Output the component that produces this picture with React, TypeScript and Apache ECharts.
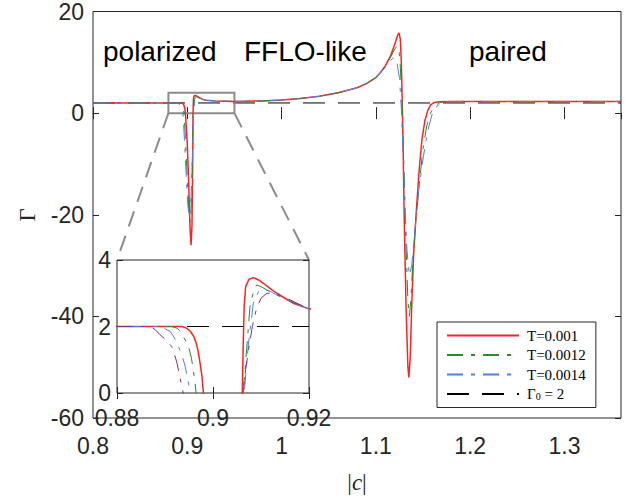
import React, { useEffect, useRef } from "react";
import * as echarts from "echarts";

// ---- data ----
const legendNames = ["T=0.001", "T=0.0012", "T=0.0014", "Γ0 = 2"];
const xTicksMain = { min: 0.8, max: 1.36, step: 0.1 };
const yTicksMain = { min: -60, max: 20, step: 20 };
const xTicksInset = { min: 0.88, max: 0.92, step: 0.02 };
const yTicksInset = { min: 0, max: 4, step: 2 };
const gamma0 = 2;
const zoomBox = { x0: 0.88, x1: 0.95, y0: 0, y1: 4 };

// shared slow rise in the FFLO-like window
const ffloRise: number[][] = [
  [0.95, 2.3], [0.98, 2.4], [1.0, 2.6], [1.02, 2.9], [1.04, 3.3], [1.06, 4.0],
  [1.08, 5.0], [1.09, 5.8], [1.1, 7.0], [1.105, 8.0],
];

const redT1: number[][] = [
  [0.8, 2.0], [0.85, 2.0], [0.88, 2.0], [0.8935, 2.0], [0.8945, 1.95], [0.8953, 1.85],
  [0.896, 1.7], [0.8965, 1.5], [0.8969, 1.25], [0.8972, 1.0], [0.8975, 0.7], [0.8977, 0.5],
  [0.898, 0], [0.899, -3], [0.9, -6], [0.901, -11], [0.902, -17], [0.903, -23], [0.904, -26],
  [0.905, -22], [0.9055, -14], [0.9058, -8], [0.906, -2], [0.9061, 0], [0.9063, 1.5],
  [0.9065, 2.6], [0.9068, 3.2], [0.9075, 3.42], [0.9084, 3.47], [0.9095, 3.4], [0.9105, 3.3],
  [0.912, 3.13], [0.9133, 3.0], [0.915, 2.85], [0.9167, 2.7], [0.92, 2.53], [0.93, 2.4],
  ...ffloRise,
  [1.11, 9.3], [1.115, 11.0], [1.12, 13.5], [1.123, 15.3], [1.1245, 15.8], [1.126, 14.5],
  [1.127, 10], [1.128, 2], [1.129, -8], [1.13, -20], [1.132, -38], [1.134, -50], [1.135, -52],
  [1.1365, -48], [1.138, -38], [1.14, -28], [1.143, -19], [1.146, -11], [1.149, -5],
  [1.152, -1.5], [1.155, 0.5], [1.158, 1.6], [1.162, 2.1], [1.167, 2.25], [1.18, 2.3],
  [1.25, 2.3], [1.36, 2.3],
];

const greenT2: number[][] = [
  [0.8, 2], [0.88, 2], [0.8914, 2], [0.8925, 1.95], [0.8932, 1.85], [0.894, 1.65],
  [0.8949, 1.4], [0.8955, 1.05], [0.8959, 0.7], [0.8965, 0], [0.897, -1.5], [0.898, -5],
  [0.8995, -11], [0.901, -17], [0.902, -20], [0.903, -21.5], [0.904, -19], [0.905, -13],
  [0.9058, -5], [0.9063, 0], [0.907, 1.3], [0.9077, 2.6], [0.9085, 3.1], [0.9091, 3.25],
  [0.91, 3.2], [0.9112, 3.1], [0.9147, 2.85], [0.9175, 2.68], [0.92, 2.53], [0.93, 2.4],
  ...ffloRise,
  [1.11, 9.3], [1.115, 10.8], [1.12, 12.6], [1.123, 13.3], [1.1245, 12.5], [1.126, 9],
  [1.128, 1], [1.13, -12], [1.132, -26], [1.134, -37], [1.1355, -40], [1.137, -37],
  [1.139, -30], [1.142, -22], [1.146, -14], [1.15, -7], [1.154, -2.5], [1.158, 0],
  [1.162, 1.3], [1.167, 2.0], [1.172, 2.25], [1.18, 2.3], [1.25, 2.3], [1.36, 2.3],
];

const blueT3: number[][] = [
  [0.8, 2], [0.88, 2], [0.889, 2], [0.8895, 1.97], [0.8911, 1.85], [0.892, 1.65],
  [0.8928, 1.4], [0.8936, 1.1], [0.8942, 0.8], [0.8953, 0], [0.896, -2], [0.8975, -7],
  [0.899, -13], [0.9005, -18], [0.902, -20.5], [0.9035, -18.5], [0.905, -12], [0.9058, -5],
  [0.9065, 0], [0.9074, 1.5], [0.9084, 2.7], [0.9095, 3.05], [0.9102, 3.15], [0.912, 3.05],
  [0.9133, 2.95], [0.9165, 2.72], [0.92, 2.53], [0.93, 2.4],
  ...ffloRise,
  [1.11, 9.0], [1.115, 10.3], [1.1195, 11.0], [1.122, 10.3], [1.125, 7], [1.127, 1],
  [1.129, -8], [1.131, -19], [1.133, -27], [1.1355, -32], [1.138, -30], [1.141, -24],
  [1.145, -16], [1.15, -9], [1.155, -3.5], [1.16, 0], [1.165, 1.4], [1.17, 2.0],
  [1.176, 2.25], [1.185, 2.3], [1.25, 2.3], [1.36, 2.3],
];

// fourth temperature, visible only in the inset
const purpleT4: number[][] = [
  [0.88, 2], [0.8869, 2], [0.888, 1.9], [0.889, 1.75], [0.8903, 1.58], [0.8914, 1.4],
  [0.892, 1.15], [0.8925, 0.9], [0.893, 0.55], [0.8935, 0.2], [0.8938, 0], [0.8945, -1],
  [0.906, -1], [0.9062, 0], [0.9068, 0.7], [0.9074, 1.3], [0.9082, 2.0], [0.909, 2.5],
  [0.91, 2.85], [0.9112, 3.0], [0.9125, 3.0], [0.9147, 2.9], [0.9175, 2.7], [0.92, 2.53],
];

const regionLabels = ["polarized", "FFLO-like", "paired"];

export default function App() {
  const ref = useRef<HTMLDivElement>(null);

  useEffect(() => {
    if (!ref.current) return;
    const chart = echarts.init(ref.current, null, { renderer: "svg" });
    const sans = "'Liberation Sans', Arial, Helvetica, sans-serif";
    const serif = "'Liberation Serif', 'Times New Roman', serif";
    const ax = "#262626";
    const gray = "#8c8c8c";
    const RED = "#ff2222";
    const GREEN = "#2b8a2b";
    const BLUE = "#4f7fef";
    const PURPLE = "#7e2f8e";
    const dashDot = [16, 8, 4, 8];
    const dashBlack = [22, 13];

    const tick = { show: true, inside: true, length: 6, lineStyle: { color: ax, width: 1 } };
    const label = { fontSize: 23, color: ax, fontFamily: sans };

    const valueAxis = (extra: any) => ({
      type: "value",
      axisLine: { show: false },
      splitLine: { show: false },
      axisTick: tick,
      ...extra,
    });

    const line = (name: string, data: number[][], color: string, width: number, type: any, xi: number, yi: number, z: number) => ({
      type: "line",
      name,
      data,
      xAxisIndex: xi,
      yAxisIndex: yi,
      symbol: "none",
      showSymbol: false,
      clip: true,
      z,
      lineStyle: { color, width, type },
      itemStyle: { color },
      emphasis: { disabled: true },
    });

    const option: any = {
      animation: false,
      backgroundColor: "#ffffff",
      grid: [
        { left: 93, top: 8, width: 528, height: 419, show: true, borderColor: ax, borderWidth: 1, backgroundColor: "transparent", z: 0 },
        { left: 117, top: 260, width: 192, height: 133, show: true, borderColor: ax, borderWidth: 1, backgroundColor: "#ffffff", z: 4 },
      ],
      xAxis: [
        valueAxis({
          gridIndex: 0, position: "bottom", min: xTicksMain.min, max: xTicksMain.max, interval: xTicksMain.step,
          axisLabel: { ...label, margin: 16, showMaxLabel: false },
          name: "{b||}{i|c}{b||}", nameLocation: "middle", nameGap: 53,
          nameTextStyle: {
            rich: {
              b: { fontFamily: serif, fontSize: 23, color: ax },
              i: { fontFamily: serif, fontSize: 23, fontStyle: "italic", color: ax },
            },
          },
        }),
        valueAxis({
          gridIndex: 0, position: "top", min: xTicksMain.min, max: xTicksMain.max, interval: xTicksMain.step,
          axisLabel: { show: false },
        }),
        valueAxis({
          gridIndex: 1, position: "bottom", min: xTicksInset.min, max: xTicksInset.max, interval: xTicksInset.step,
          axisLabel: { ...label, margin: 13 }, z: 5,
        }),
        valueAxis({
          gridIndex: 1, position: "top", min: xTicksInset.min, max: xTicksInset.max, interval: xTicksInset.step,
          axisLabel: { show: false }, z: 5,
        }),
      ],
      yAxis: [
        valueAxis({
          gridIndex: 0, position: "left", min: yTicksMain.min, max: yTicksMain.max, interval: yTicksMain.step,
          axisLabel: { ...label, margin: 9 },
          name: "Γ", nameLocation: "middle", nameGap: 54, nameRotate: 90,
          nameTextStyle: { fontFamily: serif, fontSize: 23, color: ax },
        }),
        valueAxis({
          gridIndex: 0, position: "right", min: yTicksMain.min, max: yTicksMain.max, interval: yTicksMain.step,
          axisLabel: { show: false },
        }),
        valueAxis({
          gridIndex: 1, position: "left", min: yTicksInset.min, max: yTicksInset.max, interval: yTicksInset.step,
          axisLabel: { ...label, margin: 6 }, z: 5,
        }),
        valueAxis({
          gridIndex: 1, position: "right", min: yTicksInset.min, max: yTicksInset.max, interval: yTicksInset.step,
          axisLabel: { show: false }, z: 5,
        }),
      ],
      legend: {
        data: legendNames,
        orient: "vertical",
        left: 437,
        top: 322,
        padding: [6, 10, 6, 9],
        itemGap: 4.5,
        itemWidth: 72,
        itemHeight: 14,
        borderColor: ax,
        borderWidth: 1,
        backgroundColor: "#ffffff",
        selectedMode: false,
        z: 10,
        itemStyle: { opacity: 0, borderWidth: 0 },
        textStyle: {
          fontFamily: serif, fontSize: 15, color: "#000", lineHeight: 14, padding: [0, 0, 0, 3],
          rich: {
            g: { fontFamily: serif, fontSize: 15, color: "#000" },
            s: { fontFamily: serif, fontSize: 10, color: "#000", verticalAlign: "bottom", padding: [6, 0, 0, 0] },
          },
        },
        formatter: (n: string) => (n === legendNames[3] ? "{g|Γ}{s|0}{g| = 2}" : n),
      },
      series: [
        line(legendNames[3], [[xTicksMain.min, gamma0], [xTicksMain.max, gamma0]], "#000", 1, dashBlack, 0, 0, 2),
        line(legendNames[0], redT1, RED, 1.5, "solid", 0, 0, 3),
        line(legendNames[1], greenT2, GREEN, 1, dashDot, 0, 0, 3),
        line(legendNames[2], blueT3, BLUE, 1, dashDot, 0, 0, 3),
        // inset
        line(legendNames[3], [[xTicksInset.min, gamma0], [xTicksInset.max, gamma0]], "#000", 1, dashBlack, 2, 2, 6),
        line(legendNames[0], redT1, RED, 1.5, "solid", 2, 2, 7),
        line(legendNames[1], greenT2, GREEN, 1, dashDot, 2, 2, 7),
        line(legendNames[2], blueT3, BLUE, 1, dashDot, 2, 2, 7),
        line("T=0.0016", purpleT4, PURPLE, 1, dashDot, 2, 2, 7),
      ],
    };

    chart.setOption(option);

    const px = (i: number, v: number) => chart.convertToPixel({ xAxisIndex: i } as any, v) as number;
    const py = (i: number, v: number) => chart.convertToPixel({ yAxisIndex: i } as any, v) as number;

    const bx0 = px(0, zoomBox.x0), bx1 = px(0, zoomBox.x1);
    const by0 = py(0, zoomBox.y1), by1 = py(0, zoomBox.y0);
    const ix0 = px(2, xTicksInset.min), ix1 = px(2, xTicksInset.max);
    const iy0 = py(2, yTicksInset.max);

    chart.setOption({
      graphic: [
        {
          type: "rect", z: 3, silent: true,
          shape: { x: bx0, y: by0, width: bx1 - bx0, height: by1 - by0 },
          style: { fill: "none", stroke: gray, lineWidth: 2 },
        },
        {
          type: "line", z: 3, silent: true,
          shape: { x1: bx0, y1: by1, x2: ix0, y2: iy0 },
          style: { stroke: gray, lineWidth: 2, lineDash: [16, 10] },
        },
        {
          type: "line", z: 3, silent: true,
          shape: { x1: bx1, y1: by1, x2: ix1, y2: iy0 },
          style: { stroke: gray, lineWidth: 2, lineDash: [16, 10] },
        },
        {
          type: "text", z: 8, silent: true,
          style: { text: regionLabels[0], x: 103, y: 51, font: `28px ${sans}`, fill: "#000", textVerticalAlign: "middle" },
        },
        {
          type: "text", z: 8, silent: true,
          style: { text: regionLabels[1], x: 244, y: 51, font: `28px ${sans}`, fill: "#000", textVerticalAlign: "middle" },
        },
        {
          type: "text", z: 8, silent: true,
          style: { text: regionLabels[2], x: 469, y: 51, font: `28px ${sans}`, fill: "#000", textVerticalAlign: "middle" },
        },
      ],
    });

    return () => chart.dispose();
  }, []);

  return (
    <div
      ref={ref}
      style={{ position: "absolute", left: 0, top: 0, width: 637, height: 499, background: "#fff" }}
    />
  );
}
